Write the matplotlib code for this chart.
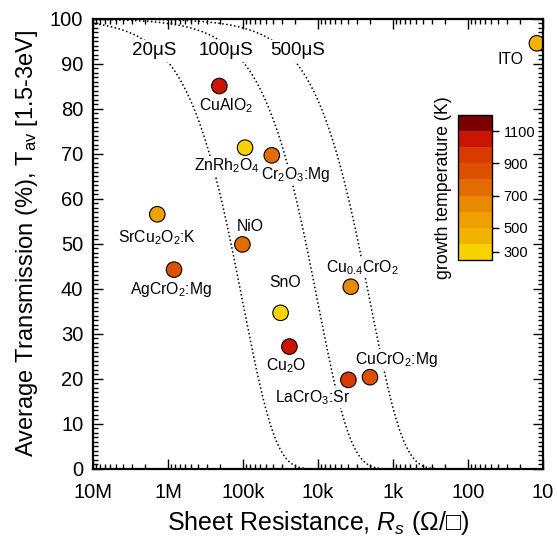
import numpy as np
import matplotlib
matplotlib.use("Agg")
import matplotlib.pyplot as plt
from matplotlib.colors import ListedColormap, BoundaryNorm
from matplotlib.cm import ScalarMappable
from matplotlib.ticker import FixedLocator, MultipleLocator, LogLocator, NullFormatter

plt.rcParams['font.family'] = ['Liberation Sans', 'DejaVu Sans']
plt.rcParams['mathtext.fontset'] = 'custom'
plt.rcParams['mathtext.rm'] = 'Liberation Sans'
plt.rcParams['mathtext.it'] = 'Liberation Sans:italic'

# -----------------------------
# Data
# -----------------------------
materials = ["ITO", "CuAlO$_2$", "ZnRh$_2$O$_4$", "Cr$_2$O$_3$:Mg", "SrCu$_2$O$_2$:K",
             "NiO", "AgCrO$_2$:Mg", "SnO", "Cu$_{0.4}$CrO$_2$", "Cu$_2$O",
             "LaCrO$_3$:Sr", "CuCrO$_2$:Mg"]
sheet_res = [12.1, 207e3, 94e3, 41.4e3, 1.39e6, 102e3, 832e3, 31.6e3, 3.66e3, 24.1e3, 3.94e3, 2.03e3]
trans = [94.6, 85.1, 71.4, 69.7, 56.6, 49.9, 44.3, 34.7, 40.5, 27.2, 19.8, 20.4]
growth_T = [450, 1050, 300, 750, 550, 750, 850, 300, 650, 1050, 950, 850]
# label offsets in points relative to marker
label_dx = [-19, 5, -13, 17, 0, 6, -2, 3, 8, -2, -26, 19]
label_dy = [-12, -14, -13, -14, -17, 13, -14, 22, 14, -14, -13, 13]

# figure-of-merit contours, T = exp(-1/(Phi*Rs))
fom_values = [10e-6, 100e-6, 500e-6]
fom_labels = ["20\u03bcS", "100\u03bcS", "500\u03bcS"]
fom_label_x = [1.54e6, 169e3, 18.5e3]
fom_label_y = [92.9, 92.9, 92.9]

# colour scale of growth temperature
cb_bounds = [200, 400, 500, 600, 700, 800, 900, 1000, 1100, 1200]
cb_colors = ['#f8d300', '#f2b200', '#eea000', '#e88a00', '#e26c00',
             '#dd5000', '#d83a00', '#cc1500', '#7a0000']
cb_ticks = [300, 500, 700, 900, 1100]

x_ticks = [1e7, 1e6, 1e5, 1e4, 1e3, 1e2, 1e1]
x_ticklabels = ["10M", "1M", "100k", "10k", "1k", "100", "10"]

cmap = ListedColormap(cb_colors)
norm = BoundaryNorm(cb_bounds, cmap.N)

# -----------------------------
# Figure
# -----------------------------
fig = plt.figure(figsize=(5.57, 5.38), dpi=100)
ax = fig.add_axes([0.167, 0.1283, 0.808, 0.8364])

rs = np.logspace(0.5, 7.5, 800)
for phi in fom_values:
    ax.plot(rs, 100 * np.exp(-1.0 / (phi * rs)), color='black', ls=(0, (1, 1.6)), lw=1.1, zorder=1)

for lab, lx, ly in zip(fom_labels, fom_label_x, fom_label_y):
    ax.text(lx, ly, lab, fontsize=13.5, ha='center', va='center', zorder=3,
            bbox=dict(facecolor='white', edgecolor='none', pad=1.5))

ax.scatter(sheet_res, trans, c=growth_T, cmap=cmap, norm=norm, s=125,
           edgecolors='black', linewidths=0.8, zorder=4)

for name, x, y, dx, dy in zip(materials, sheet_res, trans, label_dx, label_dy):
    ax.annotate(name, (x, y), xytext=(dx, dy), textcoords='offset points',
                ha='center', va='center', fontsize=11.3, zorder=3,
                bbox=dict(facecolor='white', edgecolor='none', pad=0.5))

ax.set_xscale('log')
ax.set_xlim(1e7, 1e1)
ax.set_ylim(0, 100)
ax.xaxis.set_major_locator(FixedLocator(x_ticks))
ax.set_xticklabels(x_ticklabels)
ax.xaxis.set_minor_locator(LogLocator(base=10, subs=np.arange(2, 10)))
ax.xaxis.set_minor_formatter(NullFormatter())
ax.yaxis.set_major_locator(MultipleLocator(10))
ax.yaxis.set_minor_locator(MultipleLocator(1))

ax.tick_params(which='both', direction='in', top=True, right=True, labelsize=14.5, width=1)
ax.tick_params(which='major', length=7)
ax.tick_params(which='minor', length=3.5)
ax.tick_params(axis='x', which='major', pad=10)
ax.tick_params(axis='y', which='major', pad=7)
for sp in ax.spines.values():
    sp.set_linewidth(1.6)
    sp.set_zorder(5)

ax.set_xlabel("Sheet Resistance, $R_s$ (\u03a9/\u25a1)", fontsize=18, labelpad=5)
ax.set_ylabel("Average Transmission (%), T$_{\\rm av}$ [1.5-3eV]", fontsize=17, labelpad=7)

# Colorbar
cax = fig.add_axes([0.822, 0.5167, 0.061, 0.2695])
cbar = fig.colorbar(ScalarMappable(norm=norm, cmap=cmap), cax=cax, ticks=cb_ticks)
cbar.ax.tick_params(direction='out', length=5, width=1, labelsize=10.5)
cbar.ax.minorticks_off()
cbar.outline.set_linewidth(1)
cbar.ax.yaxis.set_label_position('left')
cbar.set_label("growth temperature (K)", fontsize=12.8, labelpad=4)

fig.savefig("out.png", dpi=100)
